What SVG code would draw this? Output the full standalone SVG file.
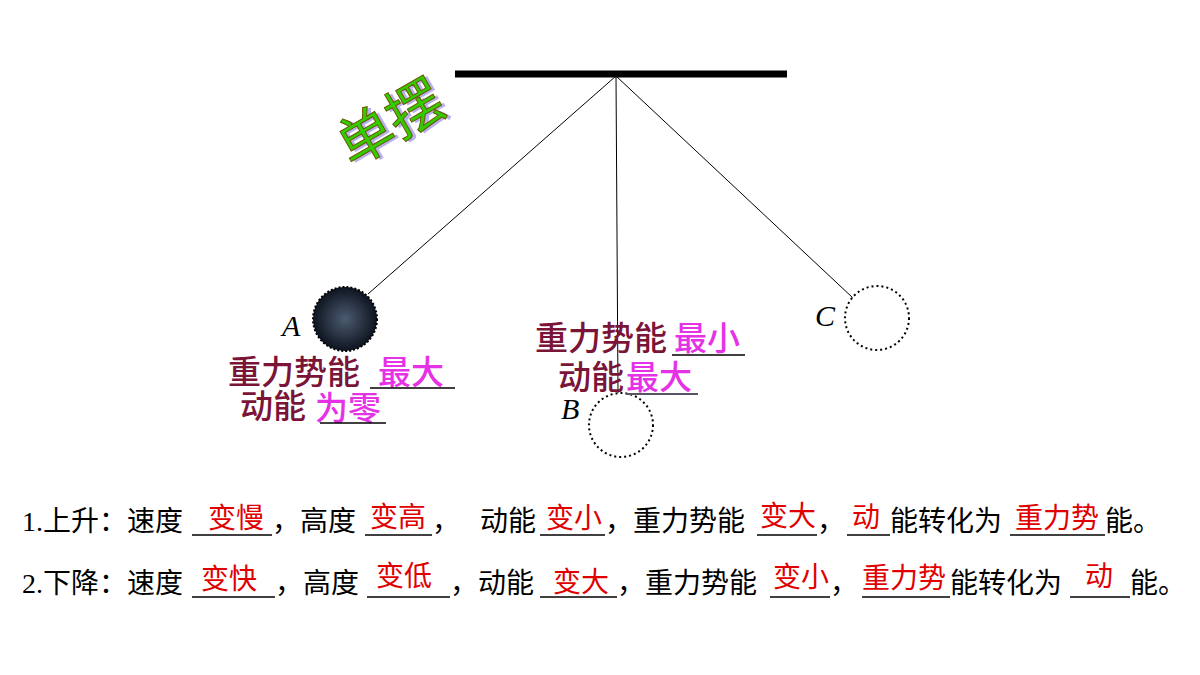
<svg xmlns="http://www.w3.org/2000/svg" width="1200" height="675" viewBox="0 0 1200 675">
<style>
.t{font-family:"Noto Sans CJK SC","DejaVu Sans",sans-serif;font-size:28px;fill:#000}
.r{font-family:"Noto Sans CJK SC",sans-serif;font-size:28px;fill:#e00000}
.m{font-family:"Noto Sans CJK SC",sans-serif;font-size:33px;font-weight:500;fill:#7a1538}
.p{font-family:"Noto Sans CJK SC",sans-serif;font-size:33px;font-weight:500;fill:#e632e6}
.lbl{font-family:"Liberation Serif",serif;font-style:italic;font-size:30px;fill:#000}
.u{stroke:#000;stroke-width:1.5}
.dot{fill:#fff;stroke:#000;stroke-width:2;stroke-dasharray:2 3}
</style>
<defs>
<radialGradient id="g" cx="0.5" cy="0.5" r="0.5"><stop offset="0" stop-color="#4c5b70"/><stop offset="1" stop-color="#0e1420"/></radialGradient>
</defs>
<g id="connectors" stroke="#000" stroke-width="1">
<line x1="616" y1="76" x2="368" y2="294"/>
<line x1="616" y1="76" x2="618" y2="393"/>
<line x1="616" y1="76" x2="853" y2="298"/>
</g>
<g id="bar"><line x1="455" y1="74" x2="787" y2="74" stroke="#000" stroke-width="7"/></g>
<g id="title" transform="translate(400,140) rotate(-30)">
<text x="3" y="3" text-anchor="middle" font-family="Noto Sans CJK SC,sans-serif" font-size="56" fill="#b8b0f0">单摆</text>
<text x="0" y="0" text-anchor="middle" font-family="Noto Sans CJK SC,sans-serif" font-size="56" fill="#33cc00" stroke="#6a5a00" stroke-width="1">单摆</text>
</g>
<g id="A">
<circle cx="345" cy="319" r="32" fill="url(#g)" stroke="#000" stroke-width="2" stroke-dasharray="2 2"/>
<text class="lbl" x="282" y="336">A</text>
<text class="m" x="228" y="384">重力势能</text><text class="p" x="378" y="384">最大</text>
<line class="u" x1="370" y1="388" x2="455" y2="388"/>
<text class="m" x="240" y="418">动能</text><text class="p" x="315" y="420">为零</text>
<line class="u" x1="320" y1="423" x2="386" y2="423"/>
</g>
<g id="B">
<circle class="dot" cx="621" cy="425" r="32"/>
<text class="lbl" x="561" y="419">B</text>
<text class="m" x="535" y="350">重力势能</text><text class="p" x="674" y="350">最小</text>
<line class="u" x1="672" y1="355" x2="745" y2="355"/>
<text class="m" x="558" y="389">动能</text><text class="p" x="626" y="389">最大</text>
<line x1="626" y1="394" x2="698" y2="394" stroke="#556" stroke-width="2"/>
</g>
<g id="C">
<circle class="dot" cx="877" cy="318" r="32"/>
<text class="lbl" x="815" y="326">C</text>
</g>
<g id="line1">
<text class="t" x="22" y="531"><tspan font-family="Liberation Serif">1.</tspan>上升：速度</text>
<line class="u" x1="192" y1="535" x2="272" y2="535"/><text class="r" x="208" y="528">变慢</text>
<text class="t" x="272" y="531">，高度</text>
<line class="u" x1="365" y1="535" x2="432" y2="535"/><text class="r" x="370" y="527">变高</text>
<text class="t" x="432" y="531">，</text>
<text class="t" x="480" y="531">动能</text>
<line class="u" x1="540" y1="535" x2="605" y2="535"/><text class="r" x="546" y="528">变小</text>
<text class="t" x="605" y="531">，重力势能</text>
<line class="u" x1="757" y1="535" x2="817" y2="535"/><text class="r" x="760" y="526">变大</text>
<text class="t" x="817" y="531">，</text>
<line class="u" x1="847" y1="535" x2="890" y2="535"/><text class="r" x="852" y="527">动</text>
<text class="t" x="890" y="531">能转化为</text>
<line class="u" x1="1010" y1="535" x2="1105" y2="535"/><text class="r" x="1015" y="528">重力势</text>
<text class="t" x="1105" y="531">能。</text>
</g>
<g id="line2">
<text class="t" x="22" y="593"><tspan font-family="Liberation Serif">2.</tspan>下降：速度</text>
<line class="u" x1="192" y1="597" x2="275" y2="597"/><text class="r" x="201" y="589">变快</text>
<text class="t" x="275" y="593">，高度</text>
<line class="u" x1="367" y1="597" x2="450" y2="597"/><text class="r" x="376" y="586">变低</text>
<text class="t" x="450" y="593">，动能</text>
<line class="u" x1="540" y1="597" x2="617" y2="597"/><text class="r" x="553" y="592">变大</text>
<text class="t" x="617" y="593">，重力势能</text>
<line class="u" x1="770" y1="597" x2="830" y2="597"/><text class="r" x="773" y="587">变小</text>
<text class="t" x="830" y="593">，</text>
<line class="u" x1="862" y1="597" x2="950" y2="597"/><text class="r" x="862" y="588">重力势</text>
<text class="t" x="950" y="593">能转化为</text>
<line class="u" x1="1070" y1="597" x2="1130" y2="597"/><text class="r" x="1085" y="586">动</text>
<text class="t" x="1130" y="593">能。</text>
</g>
</svg>
